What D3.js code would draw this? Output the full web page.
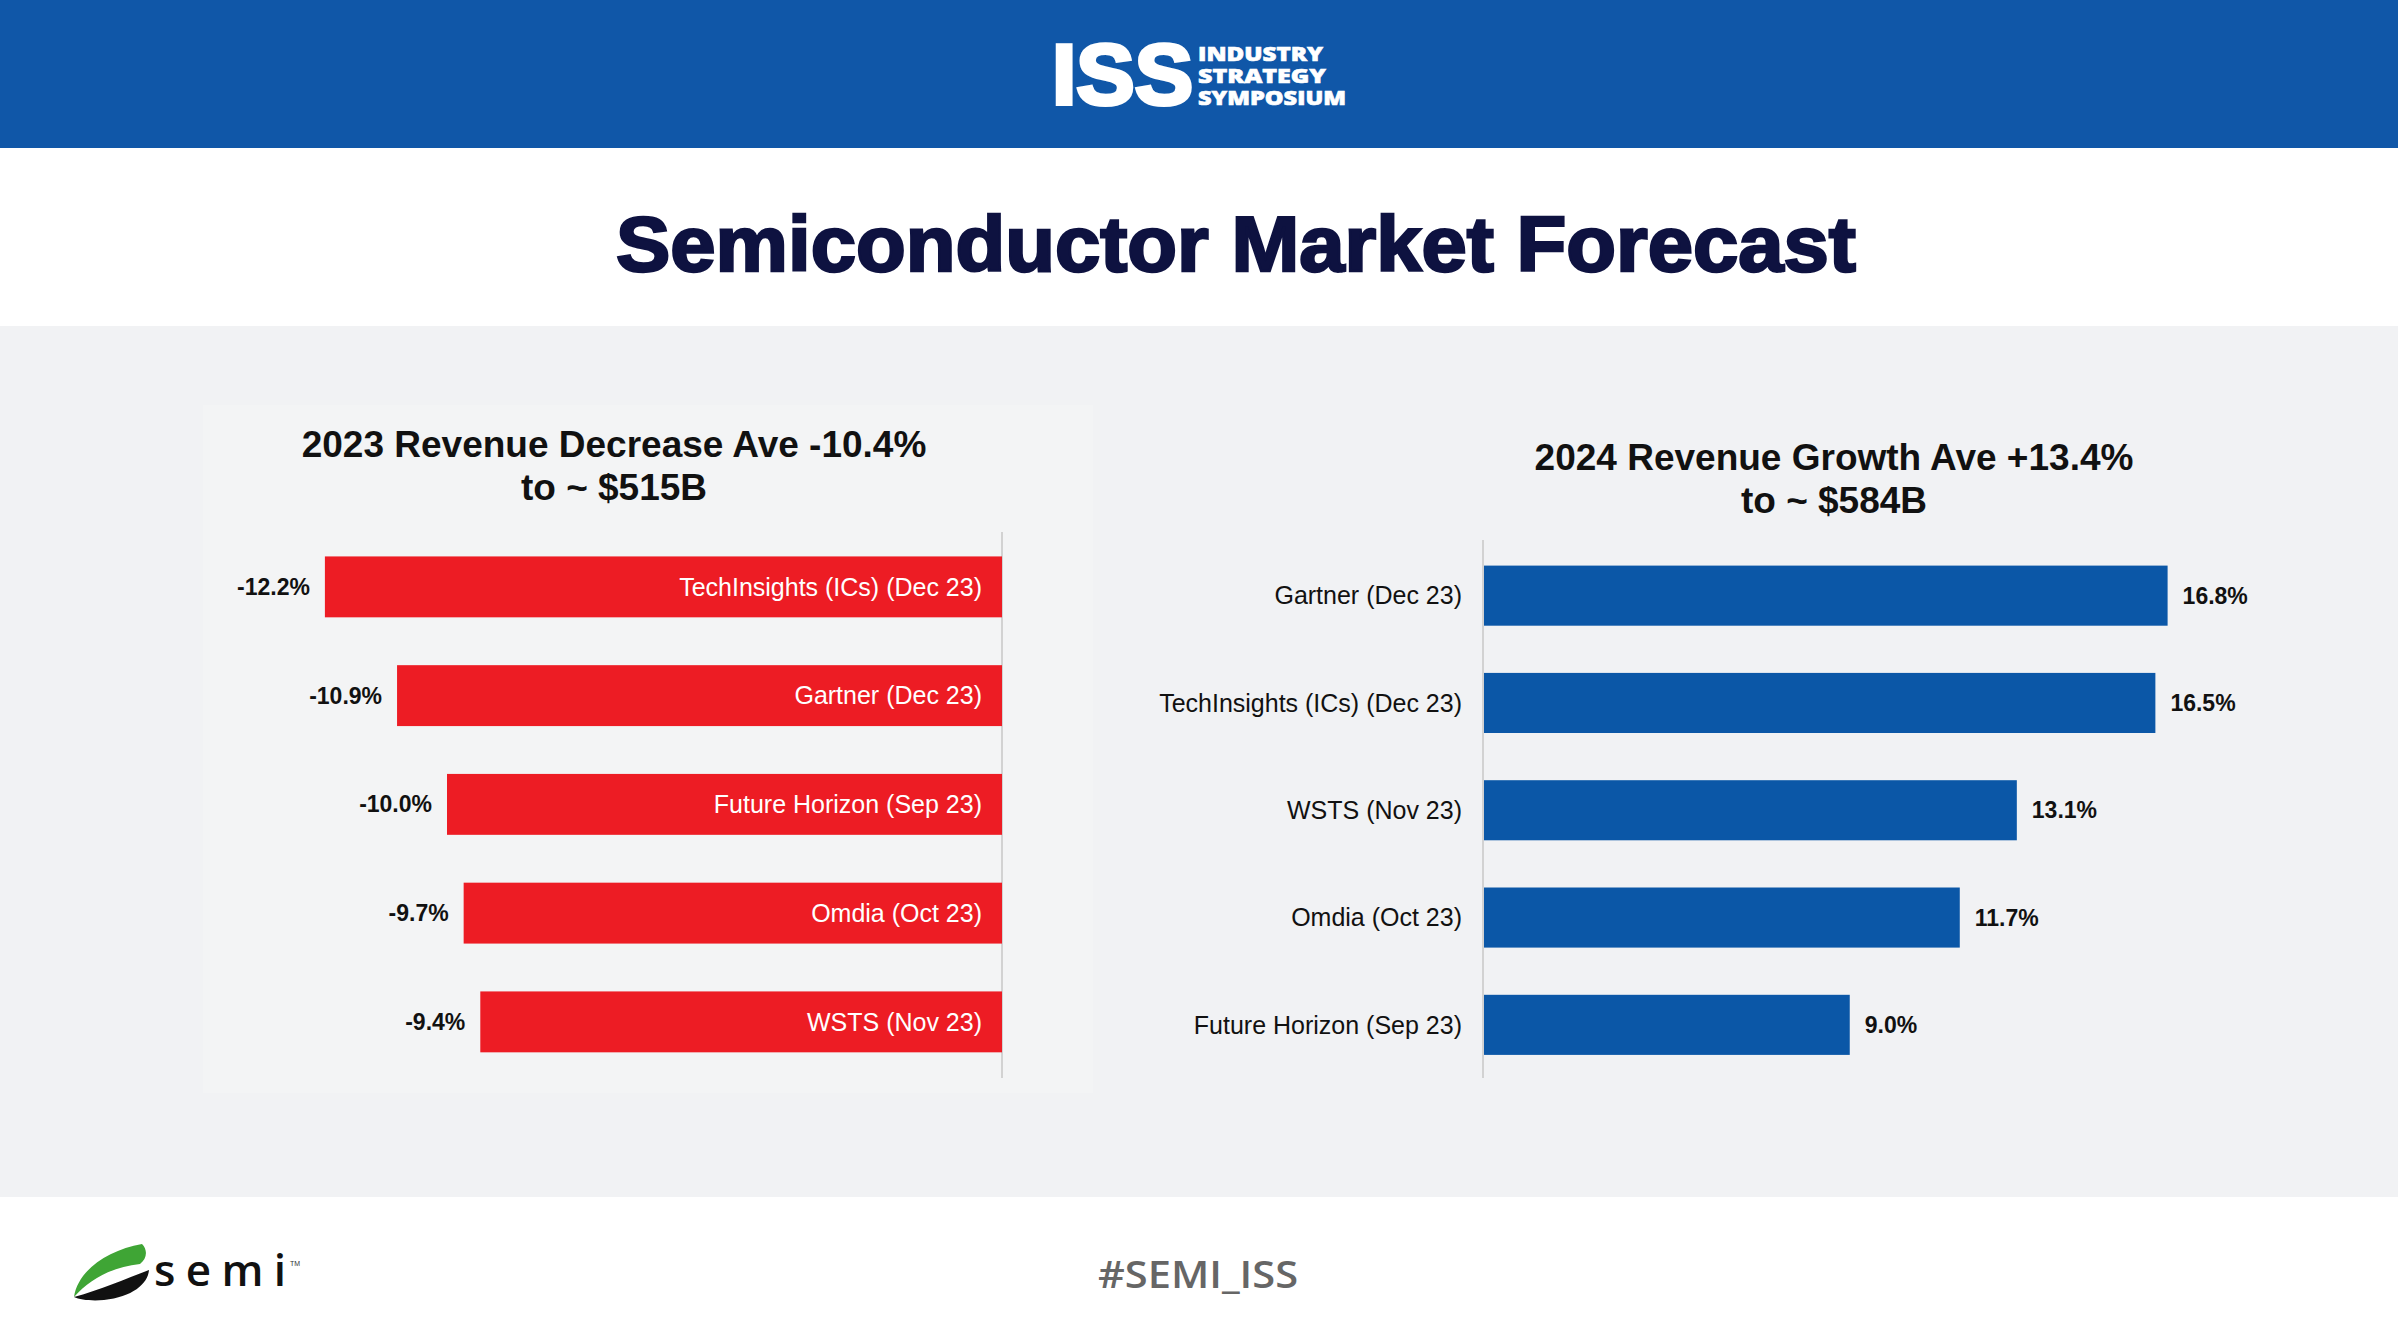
<!DOCTYPE html>
<html>
<head>
<meta charset="utf-8">
<script src="https://cdn.jsdelivr.net/npm/d3@7"></script>
<style>
  body { margin: 0; background: #fff; }
  svg { display: block; }
</style>
</head>
<body>
<div class="container"></div>
<script>
// 2023 forecasts (left chart)
const sources2023 = ["TechInsights (ICs) (Dec 23)", "Gartner (Dec 23)", "Future Horizon (Sep 23)", "Omdia (Oct 23)", "WSTS (Nov 23)"];
const values2023 = [-12.2, -10.9, -10.0, -9.7, -9.4];

// 2024 forecasts (right chart)
const sources2024 = ["Gartner (Dec 23)", "TechInsights (ICs) (Dec 23)", "WSTS (Nov 23)", "Omdia (Oct 23)", "Future Horizon (Sep 23)"];
const values2024 = [16.8, 16.5, 13.1, 11.7, 9.0];

const titles2023 = ["2023 Revenue Decrease Ave -10.4%", "to ~ $515B"];
const titles2024 = ["2024 Revenue Growth Ave +13.4%", "to ~ $584B"];

const W = 2398, H = 1334;
const font = "'Liberation Sans', Arial, sans-serif";
// plain hyphen for negatives, like the slide
const pct = d => d3.format(".1f")(d).replace("\u2212", "-") + "%";

const svg = d3.select(".container")
  .append("svg")
  .attr("width", W)
  .attr("height", H);

// backgrounds
svg.append("rect").attr("width", W).attr("height", H).attr("fill", "#ffffff");
svg.append("rect").attr("y", 326).attr("width", W).attr("height", 871).attr("fill", "#f1f2f4");
svg.append("rect").attr("x", 203).attr("y", 405).attr("width", 890).attr("height", 688).attr("fill", "#f3f4f5");

// header band
svg.append("rect").attr("width", W).attr("height", 148).attr("fill", "#1057a8");

const logo = svg.append("g");
logo.append("text")
  .attr("x", 1052).attr("y", 104)
  .attr("textLength", 141).attr("lengthAdjust", "spacingAndGlyphs")
  .style("font-family", font).style("font-weight", "bold")
  .style("font-size", "85px")
  .attr("fill", "#fff").attr("stroke", "#fff").attr("stroke-width", 4)
  .text("ISS");
const logoLines = ["INDUSTRY", "STRATEGY", "SYMPOSIUM"];
const logoWidths = [125, 128, 148];
logo.selectAll("text.sub")
  .data(logoLines)
  .enter()
  .append("text")
  .attr("class", "sub")
  .attr("x", 1198)
  .attr("y", (d, i) => 61 + i * 22)
  .attr("textLength", (d, i) => logoWidths[i]).attr("lengthAdjust", "spacingAndGlyphs")
  .style("font-family", "'Open Sans', sans-serif").style("font-weight", "800")
  .style("font-size", "19px")
  .attr("fill", "#fff").attr("stroke", "#fff").attr("stroke-width", 0.6)
  .text(d => d);

// main title
svg.append("text")
  .attr("x", 1236).attr("y", 271)
  .attr("text-anchor", "middle")
  .attr("textLength", 1240).attr("lengthAdjust", "spacingAndGlyphs")
  .style("font-family", font).style("font-weight", "bold")
  .style("font-size", "77px")
  .attr("fill", "#0e1240").attr("stroke", "#0e1240").attr("stroke-width", 2.5)
  .text("Semiconductor Market Forecast");

// chart titles
function chartTitle(lines, cx, y0) {
  svg.append("g").selectAll("text")
    .data(lines)
    .enter()
    .append("text")
    .attr("x", cx)
    .attr("y", (d, i) => y0 + i * 43)
    .attr("text-anchor", "middle")
    .style("font-family", font).style("font-weight", "bold")
    .style("font-size", "37px")
    .attr("fill", "#111")
    .text(d => d);
}
chartTitle(titles2023, 614, 457);
chartTitle(titles2024, 1834, 470);

// ---- left chart (2023) ----
const xL = d3.scaleLinear().domain([-14, 0]).range([225, 1002]);
const yL = d3.scaleBand().domain(sources2023).range([532.5, 1076.25])
  .paddingInner(0.44).paddingOuter(0.22);

const left = svg.append("g");
left.append("line")
  .attr("x1", xL(0)).attr("x2", xL(0))
  .attr("y1", 532).attr("y2", 1078)
  .attr("stroke", "#d2d2d2").attr("stroke-width", 2);

left.selectAll("rect.bar")
  .data(values2023)
  .enter()
  .append("rect")
  .attr("class", "bar")
  .attr("x", d => xL(d))
  .attr("y", (d, i) => yL(sources2023[i]))
  .attr("width", d => xL(0) - xL(d))
  .attr("height", yL.bandwidth())
  .attr("fill", "#ed1c24");

left.selectAll("text.val")
  .data(values2023)
  .enter()
  .append("text")
  .attr("class", "val")
  .attr("x", d => xL(d) - 15)
  .attr("y", (d, i) => yL(sources2023[i]) + yL.bandwidth() / 2)
  .attr("dy", "0.35em")
  .attr("text-anchor", "end")
  .style("font-family", font).style("font-weight", "bold").style("font-size", "23px")
  .attr("fill", "#111")
  .text(pct);

left.selectAll("text.cat")
  .data(sources2023)
  .enter()
  .append("text")
  .attr("class", "cat")
  .attr("x", xL(0) - 20)
  .attr("y", d => yL(d) + yL.bandwidth() / 2)
  .attr("dy", "0.35em")
  .attr("text-anchor", "end")
  .style("font-family", font).style("font-size", "25px")
  .attr("fill", "#fff")
  .text(d => d);

// ---- right chart (2024) ----
const xR = d3.scaleLinear().domain([0, 20]).range([1483, 2298]);
const yR = d3.scaleBand().domain(sources2024).range([542, 1078.5])
  .paddingInner(0.44).paddingOuter(0.22);

const right = svg.append("g");
right.append("line")
  .attr("x1", xR(0)).attr("x2", xR(0))
  .attr("y1", 540).attr("y2", 1078)
  .attr("stroke", "#d2d2d2").attr("stroke-width", 2);

right.selectAll("rect.bar")
  .data(values2024)
  .enter()
  .append("rect")
  .attr("class", "bar")
  .attr("x", xR(0) + 1)
  .attr("y", (d, i) => yR(sources2024[i]))
  .attr("width", d => xR(d) - xR(0) - 1)
  .attr("height", yR.bandwidth())
  .attr("fill", "#0b57a7");

right.selectAll("text.val")
  .data(values2024)
  .enter()
  .append("text")
  .attr("class", "val")
  .attr("x", d => xR(d) + 15)
  .attr("y", (d, i) => yR(sources2024[i]) + yR.bandwidth() / 2)
  .attr("dy", "0.35em")
  .style("font-family", font).style("font-weight", "bold").style("font-size", "23px")
  .attr("fill", "#111")
  .text(pct);

right.selectAll("text.cat")
  .data(sources2024)
  .enter()
  .append("text")
  .attr("class", "cat")
  .attr("x", xR(0) - 21)
  .attr("y", d => yR(d) + yR.bandwidth() / 2)
  .attr("dy", "0.35em")
  .attr("text-anchor", "end")
  .style("font-family", font).style("font-size", "25px")
  .attr("fill", "#111")
  .text(d => d);

// footer
const semi = svg.append("g");
semi.append("path")
  .attr("d", "M74 1297 C78 1270 108 1250 142 1244 C148 1250 147 1259 140 1264 C112 1267 90 1279 74 1297 Z")
  .attr("fill", "#3fa535");
semi.append("path")
  .attr("d", "M74 1297 C100 1290 125 1279 149 1270 C148 1284 132 1297 104 1300 C92 1301 80 1300 74 1297 Z")
  .attr("fill", "#111");
semi.append("text")
  .attr("x", 154).attr("y", 1286)
  .attr("textLength", 132).attr("lengthAdjust", "spacing")
  .style("font-family", "'Open Sans', sans-serif").style("font-weight", "600")
  .style("font-size", "44px")
  .attr("fill", "#111")
  .text("semi");
semi.append("text")
  .attr("x", 290).attr("y", 1266)
  .style("font-family", font).style("font-size", "7px")
  .attr("fill", "#333")
  .text("TM");

svg.append("text")
  .attr("x", 1198).attr("y", 1288)
  .attr("text-anchor", "middle")
  .attr("textLength", 200).attr("lengthAdjust", "spacingAndGlyphs")
  .style("font-family", "'Open Sans', sans-serif").style("font-weight", "600")
  .style("font-size", "37px")
  .attr("fill", "#666")
  .text("#SEMI_ISS");
</script>
</body>
</html>
